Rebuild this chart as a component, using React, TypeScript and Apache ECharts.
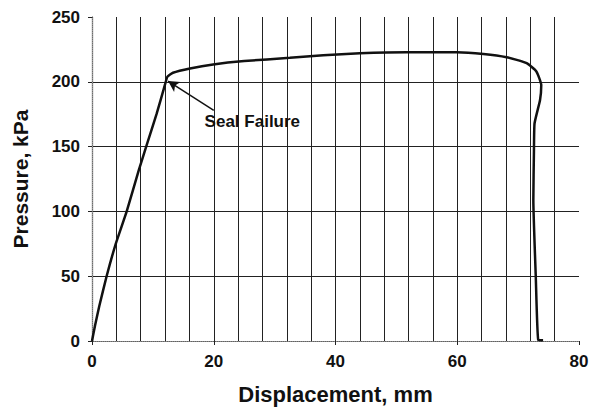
import React, { useEffect, useRef } from "react";
import * as echarts from "echarts";

const displacement = [0, 0.5, 1.2, 2.4, 3.9, 5.7, 7.7, 8.9, 10.6, 12.0, 12.4, 13.3, 16.1, 19.9, 25, 32.5, 38, 44, 51.7, 59.9, 64.3, 68.1, 71.4, 73.0, 73.8, 73.6, 72.7, 72.6, 72.5, 72.9, 73.3, 74.1];
const pressure = [0, 12, 27, 50, 75, 100, 132, 150, 175, 198, 204, 207, 210.3, 213.4, 216, 218.5, 220.5, 222, 222.8, 222.8, 221.5, 219, 214.4, 208, 197.5, 186, 168, 147, 108.8, 49.6, 0.8, 0.5];
const xTicks = [0, 20, 40, 60, 80];
const yTicks = [0, 50, 100, 150, 200, 250];
const annotationText = "Seal Failure";
const annotationTextPos = [18.5, 169];
const arrowStart = [20.0, 178];
const arrowEnd = [12.5, 200.6];

const FONT = "'Liberation Sans', Arial, sans-serif";

export default function App() {
  const ref = useRef<HTMLDivElement>(null);
  useEffect(() => {
    if (!ref.current) return;
    const chart = echarts.init(ref.current, null, { renderer: "svg" });
    const gridLine = { color: "#222", width: 1 };
    chart.setOption({
      animation: false,
      backgroundColor: "#fff",
      grid: { left: 92, right: 13, top: 17, bottom: 74 },
      xAxis: [
        {
          type: "value",
          min: xTicks[0],
          max: xTicks[xTicks.length - 1],
          interval: 20,
          name: "Displacement, mm",
          nameLocation: "middle",
          nameGap: 42,
          nameTextStyle: { fontFamily: FONT, fontWeight: "bold", fontSize: 22, color: "#111" },
          axisLine: { show: true, lineStyle: { color: "#222", width: 1.2 } },
          axisTick: { show: true, length: 4, lineStyle: { color: "#222" } },
          axisLabel: { fontFamily: FONT, fontWeight: "bold", fontSize: 17, color: "#111", margin: 12 },
          splitLine: { show: true, showMinLine: false, showMaxLine: false, lineStyle: gridLine },
          minorTick: { show: false, splitNumber: 5 },
          minorSplitLine: { show: true, lineStyle: gridLine },
        },
        {
          type: "value",
          position: "top",
          min: 0,
          max: 80,
          axisLine: { show: true, lineStyle: { color: "#888", type: "dotted", width: 1 } },
          axisTick: { show: false },
          axisLabel: { show: false },
          splitLine: { show: false },
        },
      ],
      yAxis: [
        {
          type: "value",
          min: yTicks[0],
          max: yTicks[yTicks.length - 1],
          interval: 50,
          name: "Pressure, kPa",
          nameLocation: "middle",
          nameGap: 61,
          nameTextStyle: { fontFamily: FONT, fontWeight: "bold", fontSize: 21, color: "#111" },
          axisLine: { show: true, lineStyle: { color: "#222", width: 1.2 } },
          axisTick: { show: true, length: 4, lineStyle: { color: "#222" } },
          axisLabel: { fontFamily: FONT, fontWeight: "bold", fontSize: 17, color: "#111", margin: 12 },
          splitLine: { show: true, showMinLine: false, showMaxLine: false, lineStyle: gridLine },
        },
        {
          type: "value",
          position: "right",
          min: 0,
          max: 250,
          axisLine: { show: true, lineStyle: { color: "#999", type: "dotted", width: 1 } },
          axisTick: { show: false },
          axisLabel: { show: false },
          splitLine: { show: false },
        },
      ],
      series: [
        {
          type: "line",
          data: displacement.map((d, i) => [d, pressure[i]]),
          showSymbol: false,
          smooth: 0.15,
          lineStyle: { color: "#111", width: 2.5 },
          markLine: {
            silent: true,
            symbol: ["none", "arrow"],
            symbolSize: [9, 11],
            label: { show: false },
            lineStyle: { color: "#111", width: 1.5, type: "solid" },
            data: [[{ coord: arrowStart }, { coord: arrowEnd }]],
          },
        },
        {
          type: "scatter",
          data: [annotationTextPos],
          symbolSize: 0,
          itemStyle: { opacity: 1 },
          label: {
            show: true,
            position: "right",
            distance: 0,
            formatter: annotationText,
            fontFamily: FONT,
            fontWeight: "bold",
            fontSize: 17,
            color: "#111",
            opacity: 1,
          },
        },
      ],
    });
    return () => chart.dispose();
  }, []);
  return <div ref={ref} style={{ width: 592, height: 415, position: "absolute", left: 0, top: 0 }} />;
}
